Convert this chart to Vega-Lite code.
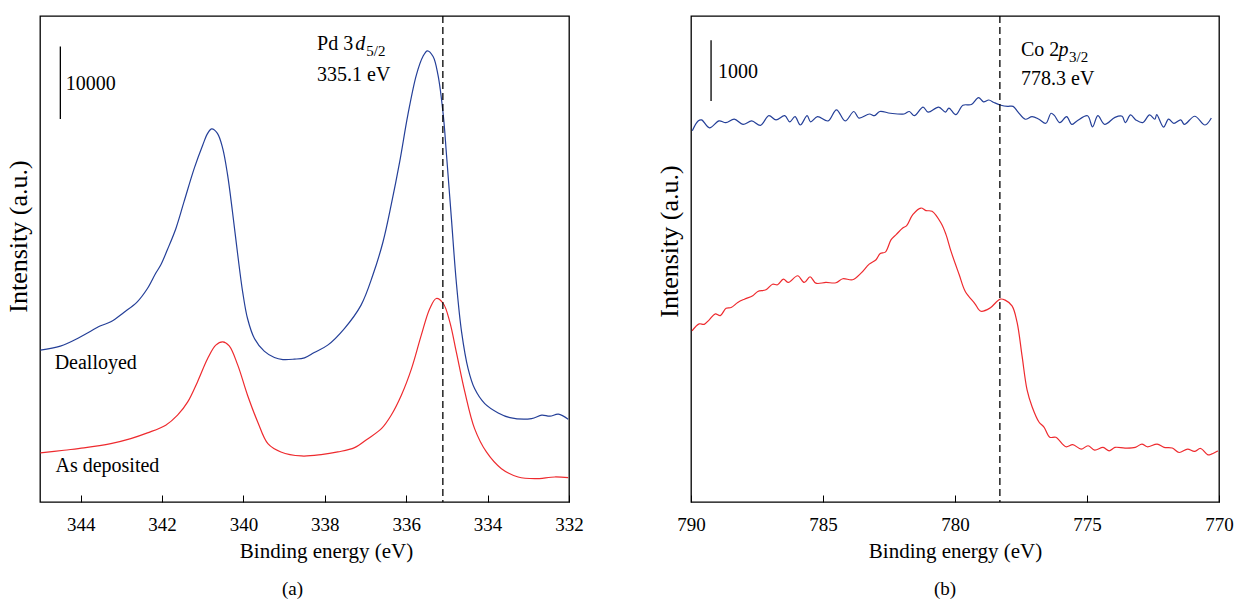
{
  "$schema": "https://vega.github.io/schema/vega-lite/v6.json",
  "background": "white",
  "padding": {"left": 4, "top": 14, "right": 5, "bottom": 5},
  "bounds": "flush",
  "spacing": 122,
  "config": {
    "font": "Times New Roman, Liberation Serif, DejaVu Serif, serif",
    "view": {"stroke": "black", "strokeWidth": 1.3},
    "axis": {"labelFont": "Times New Roman, Liberation Serif, DejaVu Serif, serif", "titleFont": "Times New Roman, Liberation Serif, DejaVu Serif, serif", "labelColor": "black", "titleColor": "black", "titleFontWeight": "normal", "grid": false, "domain": false, "tickColor": "black"},
    "text": {"font": "Times New Roman, Liberation Serif, DejaVu Serif, serif"},
    "title": {"font": "Times New Roman, Liberation Serif, DejaVu Serif, serif", "fontWeight": "normal", "color": "black", "fontSize": 19}
  },
  "datasets": {
    "pd3d": [
      {"sample": "Dealloyed", "E": 344.99, "I": 20935}, {"sample": "Dealloyed", "E": 344.50, "I": 21487}, {"sample": "Dealloyed", "E": 344.00, "I": 22770}, {"sample": "Dealloyed", "E": 343.51, "I": 24288}, {"sample": "Dealloyed", "E": 343.26, "I": 24840}, {"sample": "Dealloyed", "E": 342.94, "I": 26123}, {"sample": "Dealloyed", "E": 342.61, "I": 27600}, {"sample": "Dealloyed", "E": 342.36, "I": 29435}, {"sample": "Dealloyed", "E": 342.16, "I": 31505}, {"sample": "Dealloyed", "E": 342.03, "I": 32706}, {"sample": "Dealloyed", "E": 341.87, "I": 34776}, {"sample": "Dealloyed", "E": 341.66, "I": 37715}, {"sample": "Dealloyed", "E": 341.46, "I": 41400}, {"sample": "Dealloyed", "E": 341.21, "I": 45995}, {"sample": "Dealloyed", "E": 341.00, "I": 49225}, {"sample": "Dealloyed", "E": 340.88, "I": 50825}, {"sample": "Dealloyed", "E": 340.78, "I": 51433}, {"sample": "Dealloyed", "E": 340.64, "I": 50825}, {"sample": "Dealloyed", "E": 340.51, "I": 48755}, {"sample": "Dealloyed", "E": 340.39, "I": 45085}, {"sample": "Dealloyed", "E": 340.27, "I": 40020}, {"sample": "Dealloyed", "E": 340.14, "I": 34045}, {"sample": "Dealloyed", "E": 340.02, "I": 28980}, {"sample": "Dealloyed", "E": 339.90, "I": 25295}, {"sample": "Dealloyed", "E": 339.73, "I": 22535}, {"sample": "Dealloyed", "E": 339.49, "I": 20797}, {"sample": "Dealloyed", "E": 339.24, "I": 19913}, {"sample": "Dealloyed", "E": 339.03, "I": 19637}, {"sample": "Dealloyed", "E": 338.75, "I": 19693}, {"sample": "Dealloyed", "E": 338.50, "I": 19872}, {"sample": "Dealloyed", "E": 338.26, "I": 20603}, {"sample": "Dealloyed", "E": 337.93, "I": 21625}, {"sample": "Dealloyed", "E": 337.52, "I": 23915}, {"sample": "Dealloyed", "E": 337.11, "I": 27145}, {"sample": "Dealloyed", "E": 336.82, "I": 31285}, {"sample": "Dealloyed", "E": 336.57, "I": 35880}, {"sample": "Dealloyed", "E": 336.37, "I": 40945}, {"sample": "Dealloyed", "E": 336.16, "I": 46920}, {"sample": "Dealloyed", "E": 335.96, "I": 53365}, {"sample": "Dealloyed", "E": 335.75, "I": 58885}, {"sample": "Dealloyed", "E": 335.59, "I": 61410}, {"sample": "Dealloyed", "E": 335.48, "I": 62197}, {"sample": "Dealloyed", "E": 335.34, "I": 61410}, {"sample": "Dealloyed", "E": 335.22, "I": 58885}, {"sample": "Dealloyed", "E": 335.09, "I": 53365}, {"sample": "Dealloyed", "E": 335.01, "I": 47845}, {"sample": "Dealloyed", "E": 334.89, "I": 39095}, {"sample": "Dealloyed", "E": 334.77, "I": 30360}, {"sample": "Dealloyed", "E": 334.64, "I": 23460}, {"sample": "Dealloyed", "E": 334.48, "I": 18395}, {"sample": "Dealloyed", "E": 334.32, "I": 15635}, {"sample": "Dealloyed", "E": 334.07, "I": 13565}, {"sample": "Dealloyed", "E": 333.74, "I": 12282}, {"sample": "Dealloyed", "E": 333.45, "I": 11633}, {"sample": "Dealloyed", "E": 332.92, "I": 11495}, {"sample": "Dealloyed", "E": 332.67, "I": 11965}, {"sample": "Dealloyed", "E": 332.47, "I": 11827}, {"sample": "Dealloyed", "E": 332.26, "I": 12103}, {"sample": "Dealloyed", "E": 332.02, "I": 11413},
      {"sample": "As deposited", "E": 344.99, "I": 6762}, {"sample": "As deposited", "E": 344.41, "I": 7135}, {"sample": "As deposited", "E": 343.92, "I": 7452}, {"sample": "As deposited", "E": 343.26, "I": 8045}, {"sample": "As deposited", "E": 342.77, "I": 8735}, {"sample": "As deposited", "E": 342.36, "I": 9522}, {"sample": "As deposited", "E": 341.91, "I": 10585}, {"sample": "As deposited", "E": 341.62, "I": 11965}, {"sample": "As deposited", "E": 341.37, "I": 13800}, {"sample": "As deposited", "E": 341.13, "I": 16560}, {"sample": "As deposited", "E": 340.88, "I": 19775}, {"sample": "As deposited", "E": 340.68, "I": 21625}, {"sample": "As deposited", "E": 340.51, "I": 22080}, {"sample": "As deposited", "E": 340.35, "I": 21528}, {"sample": "As deposited", "E": 340.14, "I": 18865}, {"sample": "As deposited", "E": 339.90, "I": 14725}, {"sample": "As deposited", "E": 339.65, "I": 11040}, {"sample": "As deposited", "E": 339.40, "I": 8045}, {"sample": "As deposited", "E": 339.08, "I": 6900}, {"sample": "As deposited", "E": 338.58, "I": 6348}, {"sample": "As deposited", "E": 338.09, "I": 6527}, {"sample": "As deposited", "E": 337.68, "I": 6900}, {"sample": "As deposited", "E": 337.27, "I": 7493}, {"sample": "As deposited", "E": 336.94, "I": 8735}, {"sample": "As deposited", "E": 336.61, "I": 10115}, {"sample": "As deposited", "E": 336.37, "I": 11965}, {"sample": "As deposited", "E": 336.12, "I": 14725}, {"sample": "As deposited", "E": 335.87, "I": 18395}, {"sample": "As deposited", "E": 335.63, "I": 23005}, {"sample": "As deposited", "E": 335.42, "I": 26675}, {"sample": "As deposited", "E": 335.26, "I": 28055}, {"sample": "As deposited", "E": 335.09, "I": 27365}, {"sample": "As deposited", "E": 334.93, "I": 24840}, {"sample": "As deposited", "E": 334.77, "I": 20700}, {"sample": "As deposited", "E": 334.56, "I": 15180}, {"sample": "As deposited", "E": 334.32, "I": 10115}, {"sample": "As deposited", "E": 334.03, "I": 6900}, {"sample": "As deposited", "E": 333.66, "I": 4595}, {"sample": "As deposited", "E": 333.25, "I": 3450}, {"sample": "As deposited", "E": 332.84, "I": 3215}, {"sample": "As deposited", "E": 332.35, "I": 3450}, {"sample": "As deposited", "E": 332.02, "I": 3353}
    ],
    "co2p": [
      {"sample": "Dealloyed", "E": 789.95, "I": 6113}, {"sample": "Dealloyed", "E": 789.73, "I": 6273}, {"sample": "Dealloyed", "E": 789.60, "I": 6290}, {"sample": "Dealloyed", "E": 789.30, "I": 6159}, {"sample": "Dealloyed", "E": 788.94, "I": 6273}, {"sample": "Dealloyed", "E": 788.68, "I": 6245}, {"sample": "Dealloyed", "E": 788.36, "I": 6301}, {"sample": "Dealloyed", "E": 788.03, "I": 6216}, {"sample": "Dealloyed", "E": 787.70, "I": 6273}, {"sample": "Dealloyed", "E": 787.37, "I": 6199}, {"sample": "Dealloyed", "E": 787.05, "I": 6359}, {"sample": "Dealloyed", "E": 786.78, "I": 6290}, {"sample": "Dealloyed", "E": 786.45, "I": 6359}, {"sample": "Dealloyed", "E": 786.26, "I": 6257}, {"sample": "Dealloyed", "E": 786.06, "I": 6343}, {"sample": "Dealloyed", "E": 785.86, "I": 6206}, {"sample": "Dealloyed", "E": 785.60, "I": 6359}, {"sample": "Dealloyed", "E": 785.47, "I": 6257}, {"sample": "Dealloyed", "E": 785.21, "I": 6343}, {"sample": "Dealloyed", "E": 784.81, "I": 6273}, {"sample": "Dealloyed", "E": 784.49, "I": 6456}, {"sample": "Dealloyed", "E": 784.16, "I": 6273}, {"sample": "Dealloyed", "E": 783.83, "I": 6428}, {"sample": "Dealloyed", "E": 783.64, "I": 6320}, {"sample": "Dealloyed", "E": 783.24, "I": 6387}, {"sample": "Dealloyed", "E": 783.05, "I": 6359}, {"sample": "Dealloyed", "E": 782.85, "I": 6428}, {"sample": "Dealloyed", "E": 782.45, "I": 6399}, {"sample": "Dealloyed", "E": 781.93, "I": 6387}, {"sample": "Dealloyed", "E": 781.73, "I": 6428}, {"sample": "Dealloyed", "E": 781.54, "I": 6359}, {"sample": "Dealloyed", "E": 781.21, "I": 6501}, {"sample": "Dealloyed", "E": 781.02, "I": 6417}, {"sample": "Dealloyed", "E": 780.62, "I": 6501}, {"sample": "Dealloyed", "E": 780.36, "I": 6417}, {"sample": "Dealloyed", "E": 780.23, "I": 6485}, {"sample": "Dealloyed", "E": 779.97, "I": 6376}, {"sample": "Dealloyed", "E": 779.70, "I": 6531}, {"sample": "Dealloyed", "E": 779.38, "I": 6542}, {"sample": "Dealloyed", "E": 779.11, "I": 6656}, {"sample": "Dealloyed", "E": 778.92, "I": 6587}, {"sample": "Dealloyed", "E": 778.72, "I": 6617}, {"sample": "Dealloyed", "E": 778.52, "I": 6575}, {"sample": "Dealloyed", "E": 778.26, "I": 6531}, {"sample": "Dealloyed", "E": 778.00, "I": 6513}, {"sample": "Dealloyed", "E": 777.80, "I": 6513}, {"sample": "Dealloyed", "E": 777.61, "I": 6417}, {"sample": "Dealloyed", "E": 777.34, "I": 6301}, {"sample": "Dealloyed", "E": 777.08, "I": 6343}, {"sample": "Dealloyed", "E": 776.82, "I": 6301}, {"sample": "Dealloyed", "E": 776.56, "I": 6234}, {"sample": "Dealloyed", "E": 776.36, "I": 6399}, {"sample": "Dealloyed", "E": 776.23, "I": 6359}, {"sample": "Dealloyed", "E": 776.03, "I": 6245}, {"sample": "Dealloyed", "E": 775.77, "I": 6343}, {"sample": "Dealloyed", "E": 775.58, "I": 6216}, {"sample": "Dealloyed", "E": 775.38, "I": 6273}, {"sample": "Dealloyed", "E": 774.98, "I": 6359}, {"sample": "Dealloyed", "E": 774.79, "I": 6176}, {"sample": "Dealloyed", "E": 774.59, "I": 6359}, {"sample": "Dealloyed", "E": 774.33, "I": 6216}, {"sample": "Dealloyed", "E": 773.94, "I": 6331}, {"sample": "Dealloyed", "E": 773.67, "I": 6350}, {"sample": "Dealloyed", "E": 773.55, "I": 6245}, {"sample": "Dealloyed", "E": 773.35, "I": 6371}, {"sample": "Dealloyed", "E": 773.15, "I": 6290}, {"sample": "Dealloyed", "E": 772.89, "I": 6245}, {"sample": "Dealloyed", "E": 772.63, "I": 6371}, {"sample": "Dealloyed", "E": 772.43, "I": 6301}, {"sample": "Dealloyed", "E": 772.36, "I": 6376}, {"sample": "Dealloyed", "E": 772.10, "I": 6171}, {"sample": "Dealloyed", "E": 771.91, "I": 6301}, {"sample": "Dealloyed", "E": 771.71, "I": 6234}, {"sample": "Dealloyed", "E": 771.45, "I": 6290}, {"sample": "Dealloyed", "E": 771.31, "I": 6216}, {"sample": "Dealloyed", "E": 770.92, "I": 6350}, {"sample": "Dealloyed", "E": 770.53, "I": 6206}, {"sample": "Dealloyed", "E": 770.29, "I": 6320},
      {"sample": "As deposited", "E": 789.96, "I": 2817}, {"sample": "As deposited", "E": 789.69, "I": 2932}, {"sample": "As deposited", "E": 789.50, "I": 2925}, {"sample": "As deposited", "E": 789.31, "I": 2998}, {"sample": "As deposited", "E": 789.08, "I": 3097}, {"sample": "As deposited", "E": 788.89, "I": 3069}, {"sample": "As deposited", "E": 788.67, "I": 3189}, {"sample": "As deposited", "E": 788.48, "I": 3201}, {"sample": "As deposited", "E": 788.23, "I": 3284}, {"sample": "As deposited", "E": 787.98, "I": 3338}, {"sample": "As deposited", "E": 787.66, "I": 3394}, {"sample": "As deposited", "E": 787.47, "I": 3465}, {"sample": "As deposited", "E": 787.16, "I": 3493}, {"sample": "As deposited", "E": 786.91, "I": 3585}, {"sample": "As deposited", "E": 786.72, "I": 3576}, {"sample": "As deposited", "E": 786.50, "I": 3668}, {"sample": "As deposited", "E": 786.31, "I": 3614}, {"sample": "As deposited", "E": 785.96, "I": 3724}, {"sample": "As deposited", "E": 785.71, "I": 3614}, {"sample": "As deposited", "E": 785.49, "I": 3708}, {"sample": "As deposited", "E": 785.27, "I": 3602}, {"sample": "As deposited", "E": 784.89, "I": 3614}, {"sample": "As deposited", "E": 784.51, "I": 3609}, {"sample": "As deposited", "E": 784.25, "I": 3675}, {"sample": "As deposited", "E": 783.88, "I": 3658}, {"sample": "As deposited", "E": 783.56, "I": 3767}, {"sample": "As deposited", "E": 783.25, "I": 3915}, {"sample": "As deposited", "E": 782.99, "I": 3988}, {"sample": "As deposited", "E": 782.83, "I": 4092}, {"sample": "As deposited", "E": 782.64, "I": 4113}, {"sample": "As deposited", "E": 782.42, "I": 4318}, {"sample": "As deposited", "E": 782.23, "I": 4401}, {"sample": "As deposited", "E": 781.98, "I": 4509}, {"sample": "As deposited", "E": 781.83, "I": 4549}, {"sample": "As deposited", "E": 781.60, "I": 4731}, {"sample": "As deposited", "E": 781.29, "I": 4839}, {"sample": "As deposited", "E": 781.10, "I": 4797}, {"sample": "As deposited", "E": 780.87, "I": 4785}, {"sample": "As deposited", "E": 780.53, "I": 4592}, {"sample": "As deposited", "E": 780.34, "I": 4401}, {"sample": "As deposited", "E": 780.15, "I": 4125}, {"sample": "As deposited", "E": 779.84, "I": 3741}, {"sample": "As deposited", "E": 779.61, "I": 3465}, {"sample": "As deposited", "E": 779.25, "I": 3267}, {"sample": "As deposited", "E": 779.02, "I": 3140}, {"sample": "As deposited", "E": 778.67, "I": 3194}, {"sample": "As deposited", "E": 778.29, "I": 3340}, {"sample": "As deposited", "E": 778.10, "I": 3323}, {"sample": "As deposited", "E": 777.84, "I": 3229}, {"sample": "As deposited", "E": 777.65, "I": 2962}, {"sample": "As deposited", "E": 777.46, "I": 2404}, {"sample": "As deposited", "E": 777.27, "I": 1846}, {"sample": "As deposited", "E": 777.08, "I": 1568}, {"sample": "As deposited", "E": 776.82, "I": 1317}, {"sample": "As deposited", "E": 776.63, "I": 1233}, {"sample": "As deposited", "E": 776.41, "I": 1066}, {"sample": "As deposited", "E": 776.18, "I": 1066}, {"sample": "As deposited", "E": 775.80, "I": 909}, {"sample": "As deposited", "E": 775.54, "I": 944}, {"sample": "As deposited", "E": 775.22, "I": 871}, {"sample": "As deposited", "E": 774.96, "I": 926}, {"sample": "As deposited", "E": 774.71, "I": 855}, {"sample": "As deposited", "E": 774.39, "I": 899}, {"sample": "As deposited", "E": 774.16, "I": 843}, {"sample": "As deposited", "E": 773.94, "I": 899}, {"sample": "As deposited", "E": 773.56, "I": 888}, {"sample": "As deposited", "E": 773.17, "I": 899}, {"sample": "As deposited", "E": 772.92, "I": 954}, {"sample": "As deposited", "E": 772.72, "I": 909}, {"sample": "As deposited", "E": 772.34, "I": 954}, {"sample": "As deposited", "E": 772.08, "I": 899}, {"sample": "As deposited", "E": 771.77, "I": 888}, {"sample": "As deposited", "E": 771.51, "I": 815}, {"sample": "As deposited", "E": 771.19, "I": 871}, {"sample": "As deposited", "E": 770.93, "I": 832}, {"sample": "As deposited", "E": 770.70, "I": 881}, {"sample": "As deposited", "E": 770.42, "I": 776}, {"sample": "As deposited", "E": 770.29, "I": 787}, {"sample": "As deposited", "E": 770.04, "I": 843}
    ]
  },
  "hconcat": [
    {
      "width": 529,
      "height": 486,
      "title": {"text": "(a)", "orient": "bottom", "offset": 19, "dx": -12},
      "layer": [
        {
          "data": {"name": "pd3d"},
          "mark": {"type": "line", "strokeWidth": 1.2, "interpolate": "catmull-rom"},
          "encoding": {
            "x": {"field": "E", "type": "quantitative", "scale": {"domain": [345, 332], "nice": false, "zero": false},
                  "axis": {"title": "Binding energy (eV)", "values": [344, 342, 340, 338, 336, 334, 332], "format": "d", "tickSize": -7, "labelPadding": 20, "labelFontSize": 19, "titleFontSize": 21, "titlePadding": 6, "titleX": 286, "labelFlush": false}},
            "y": {"field": "I", "type": "quantitative", "scale": {"domain": [0, 67000], "nice": false},
                  "axis": {"title": "Intensity (a.u.)", "labels": false, "ticks": false, "titleFontSize": 26, "titlePadding": 9, "titleY": 220}},
            "color": {"field": "sample", "type": "nominal", "scale": {"domain": ["Dealloyed", "As deposited"], "range": ["#243f98", "#ee2a2e"]}, "legend": null}
          }
        },
        {
          "data": {"values": [{"E": 335.1}]},
          "mark": {"type": "rule", "strokeDash": [7, 4], "strokeWidth": 1.3, "color": "black"},
          "encoding": {"x": {"field": "E", "type": "quantitative"}}
        },
        {
          "data": {"values": [{"E": 344.5, "I1": 52800, "I2": 62800}]},
          "mark": {"type": "rule", "strokeWidth": 1.3, "color": "black"},
          "encoding": {"x": {"field": "E", "type": "quantitative"}, "y": {"field": "I1", "type": "quantitative"}, "y2": {"field": "I2"}}
        },
        {
          "data": {"values": [
            {"E": 338.19, "I": 62376, "label": "Pd 3"},
            {"E": 338.19, "I": 58098, "label": "335.1 eV"},
            {"E": 344.37, "I": 56856, "label": "10000"},
            {"E": 344.64, "I": 18395, "label": "Dealloyed"},
            {"E": 344.62, "I": 4140, "label": "As deposited"}
          ]},
          "mark": {"type": "text", "align": "left", "baseline": "alphabetic", "fontSize": 20, "color": "black"},
          "encoding": {"x": {"field": "E", "type": "quantitative"}, "y": {"field": "I", "type": "quantitative"}, "text": {"field": "label"}}
        },
        {
          "data": {"values": [{"E": 337.25, "I": 62376, "label": "d"}]},
          "mark": {"type": "text", "align": "left", "baseline": "alphabetic", "fontSize": 20, "fontStyle": "italic", "color": "black"},
          "encoding": {"x": {"field": "E", "type": "quantitative"}, "y": {"field": "I", "type": "quantitative"}, "text": {"field": "label"}}
        },
        {
          "data": {"values": [{"E": 336.98, "I": 61500, "label": "5/2"}]},
          "mark": {"type": "text", "align": "left", "baseline": "alphabetic", "fontSize": 15, "color": "black"},
          "encoding": {"x": {"field": "E", "type": "quantitative"}, "y": {"field": "I", "type": "quantitative"}, "text": {"field": "label"}}
        }
      ]
    },
    {
      "width": 528,
      "height": 486,
      "title": {"text": "(b)", "orient": "bottom", "offset": 19, "dx": -10},
      "layer": [
        {
          "data": {"name": "co2p"},
          "mark": {"type": "line", "strokeWidth": 1.2, "interpolate": "catmull-rom"},
          "encoding": {
            "x": {"field": "E", "type": "quantitative", "scale": {"domain": [790, 770], "nice": false, "zero": false},
                  "axis": {"title": "Binding energy (eV)", "values": [790, 785, 780, 775, 770], "format": "d", "tickSize": -7, "labelPadding": 20, "labelFontSize": 19, "titleFontSize": 21, "titlePadding": 6, "labelFlush": false}},
            "y": {"field": "I", "type": "quantitative", "scale": {"domain": [0, 8000], "nice": false},
                  "axis": {"title": "Intensity (a.u.)", "labels": false, "ticks": false, "titleFontSize": 26, "titlePadding": 9, "titleY": 225}},
            "color": {"field": "sample", "type": "nominal", "scale": {"domain": ["Dealloyed", "As deposited"], "range": ["#243f98", "#ee2a2e"]}, "legend": null}
          }
        },
        {
          "data": {"values": [{"E": 778.3}]},
          "mark": {"type": "rule", "strokeDash": [7, 4], "strokeWidth": 1.3, "color": "black"},
          "encoding": {"x": {"field": "E", "type": "quantitative"}}
        },
        {
          "data": {"values": [{"E": 789.24, "I1": 6600, "I2": 7600}]},
          "mark": {"type": "rule", "strokeWidth": 1.3, "color": "black"},
          "encoding": {"x": {"field": "E", "type": "quantitative"}, "y": {"field": "I1", "type": "quantitative"}, "y2": {"field": "I2"}}
        },
        {
          "data": {"values": [
            {"E": 777.5, "I": 7343, "label": "Co 2"},
            {"E": 777.5, "I": 6864, "label": "778.3 eV"},
            {"E": 788.98, "I": 6980, "label": "1000"}
          ]},
          "mark": {"type": "text", "align": "left", "baseline": "alphabetic", "fontSize": 20, "color": "black"},
          "encoding": {"x": {"field": "E", "type": "quantitative"}, "y": {"field": "I", "type": "quantitative"}, "text": {"field": "label"}}
        },
        {
          "data": {"values": [{"E": 776.08, "I": 7343, "label": "p"}]},
          "mark": {"type": "text", "align": "left", "baseline": "alphabetic", "fontSize": 20, "fontStyle": "italic", "color": "black"},
          "encoding": {"x": {"field": "E", "type": "quantitative"}, "y": {"field": "I", "type": "quantitative"}, "text": {"field": "label"}}
        },
        {
          "data": {"values": [{"E": 775.68, "I": 7250, "label": "3/2"}]},
          "mark": {"type": "text", "align": "left", "baseline": "alphabetic", "fontSize": 15, "color": "black"},
          "encoding": {"x": {"field": "E", "type": "quantitative"}, "y": {"field": "I", "type": "quantitative"}, "text": {"field": "label"}}
        }
      ]
    }
  ]
}
